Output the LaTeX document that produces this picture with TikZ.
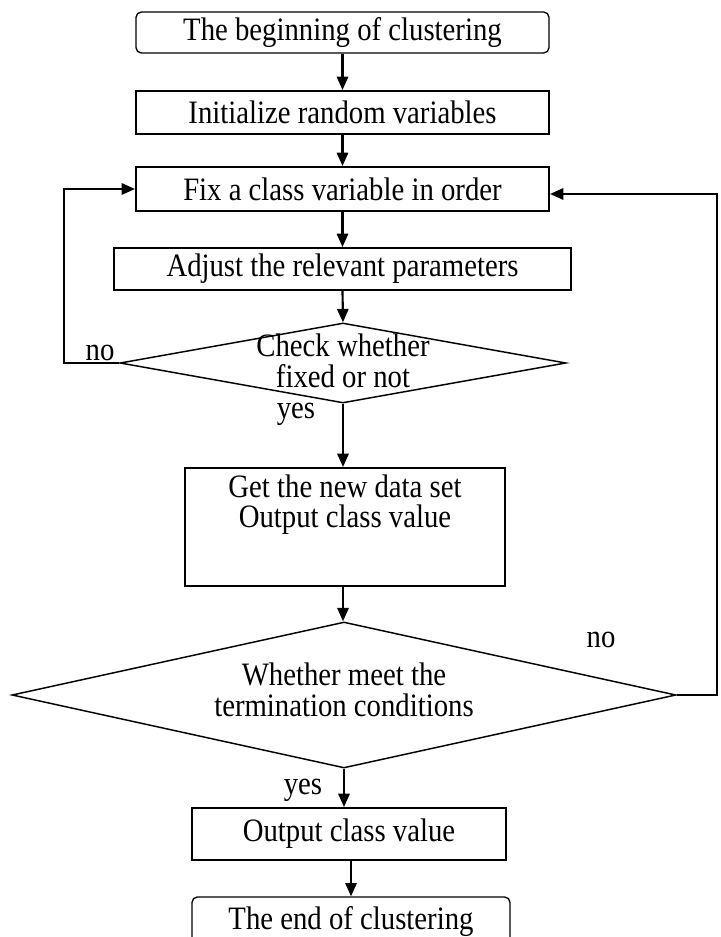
\documentclass[tikz,border=0pt]{standalone}
\usepackage{fontspec}
\setmainfont{Liberation Serif}[FakeStretch=0.88]
\usetikzlibrary{shapes.geometric,arrows.meta,calc}
\begin{document}
\begin{tikzpicture}[x=0.75pt,y=-0.75pt,
  every node/.style={font=\fontsize{24.5}{23}\selectfont},
  box/.style={draw,line width=1.5pt,inner sep=0pt},
  roundbox/.style={draw,line width=1pt,rounded corners=4pt,inner sep=0pt},
  dia/.style={draw,diamond,line width=1.1pt,inner sep=0pt},
  txt/.style={align=center,inner sep=0pt},
  arr/.style={line width=1.6pt,-{Triangle[length=10pt,width=8.5pt]}},
  lbl/.style={inner sep=0pt}]
\useasboundingbox (0,0) rectangle (720,937);
\clip (0,0) rectangle (720,937);
\fill[white] (0,0) rectangle (720,937);

\node[roundbox,minimum width=309.75pt,minimum height=30.75pt] (b1) at (342.5,32.5) {The beginning of clustering};
\node[box,minimum width=309.75pt,minimum height=32.25pt] (b2) at (342.5,112.5) {Initialize random variables};
\node[box,minimum width=309.75pt,minimum height=33pt] (b3) at (342.5,189) {Fix a class variable in order};
\node[box,minimum width=342.75pt,minimum height=31.5pt] (b4) at (342.5,269) {Adjust the relevant parameters};
\node[dia,minimum width=334.5pt,minimum height=60pt] (d1) at (343,363) {};
\node[txt] (t1) at (343,361) {Check whether\\fixed or not};
\node[box,minimum width=240pt,minimum height=88.5pt] (b5) at (345,527) {};
\node[txt,font=\fontsize{24.5}{22.5}\selectfont] (t5) at (345,505) {Get the new data set\\Output class value};
\node[dia,minimum width=498pt,minimum height=109.5pt] (d2) at (344,695) {};
\node[txt] (t2) at (344,690) {Whether meet the\\termination conditions};
\node[box,minimum width=235.5pt,minimum height=39pt] (b6) at (349,834) {Output class value};
\node[roundbox,minimum width=238.5pt,minimum height=37.5pt] (b7) at (351,922) {The end of clustering};

\coordinate (cL) at (64,189);
\coordinate (cR) at (717,194);

\draw[arr] (b1.south) -- (b2.north);
\draw[arr] (b2.south) -- (b3.north);
\draw[arr] (b3.south) -- (b4.north);
\draw[arr] (b4.south) -- (d1.north);
\draw[arr] (d1.south) -- (d1.south |- b5.north);
\draw[arr] (d1.south |- b5.south) -- (d1.south |- d2.north);
\draw[arr] (d2.south) -- (d2.south |- b6.north);
\draw[arr] (b7.north |- b6.south) -- (b7.north);

\draw[arr] (d1.west) -| (cL) -- (b3.west);
\draw[arr] (d2.east) -| (cR) -- (b3.east |- cR);

\node[lbl] (no1) at (100,353) {no};
\node[lbl] (yes1) at (296,414) {yes};
\node[lbl] (no2) at (601,640) {no};
\node[lbl] (yes2) at (303,790) {yes};
\end{tikzpicture}
\end{document}
